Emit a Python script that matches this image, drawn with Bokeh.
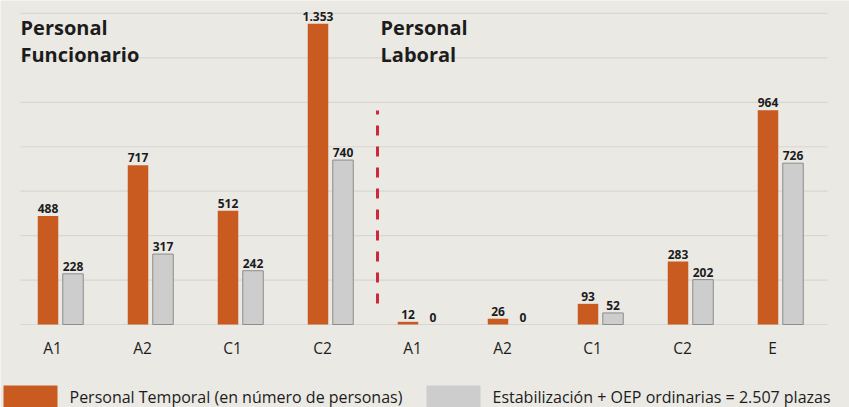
from bokeh.plotting import figure
from bokeh.models import Range1d, ColumnDataSource
from bokeh.core.properties import value
from bokeh.embed import file_html
from bokeh.resources import INLINE

# ---- data ----
categories = ["A1", "A2", "C1", "C2", "A1", "A2", "C1", "C2", "E"]
temporal = [488, 717, 512, 1353, 12, 26, 93, 283, 964]
estabilizacion = [228, 317, 242, 740, 0, 0, 52, 202, 726]
legend_labels = ["Personal Temporal (en número de personas)",
                 "Estabilización + OEP ordinarias = 2.507 plazas"]
group_titles = ["Personal\nFuncionario", "Personal\nLaboral"]

ORANGE = "#c95a20"
GRAY = "#cdcdcd"
GRAY_LINE = "#8c8c8c"
TEXT = "#1c1c1c"
BG = "#ebe9e4"

W, H = 849, 407
PXX = 90.0       # px per category
PXY = 0.2222     # px per unit
X0 = 60.0        # page x of first category
Y0 = 324.0       # page y of baseline

x_start = (0 - X0) / PXX
x_end = (W - X0) / PXX
y_end = Y0 / PXY
y_start = (Y0 - H) / PXY

p = figure(width=W, height=H, output_backend="svg", toolbar_location=None,
           x_range=Range1d(x_start, x_end), y_range=Range1d(y_start, y_end),
           min_border=0, outline_line_color=None)
p.axis.visible = False
p.xgrid.visible = False
p.ygrid.visible = False
p.background_fill_color = BG
p.border_fill_color = BG

# horizontal gridlines
grid_vals = list(range(0, 1600, 200))
p.segment(x0=[(20 - X0) / PXX] * len(grid_vals), x1=[(827 - X0) / PXX] * len(grid_vals),
          y0=grid_vals, y1=grid_vals, line_color="#d8d6d1", line_width=1.2)

def fmt(v):
    return f"{v:,}".replace(",", ".")

xs = list(range(len(categories)))
off = 12.5 / PXX
bw = 20.5 / PXX
src = ColumnDataSource(dict(
    xo=[x - off for x in xs], xg=[x + off for x in xs],
    t=temporal, e=estabilizacion,
    tl=[fmt(v) for v in temporal], el=[fmt(v) for v in estabilizacion],
    tly=[v + 3 / PXY for v in temporal], ely=[v + 3 / PXY for v in estabilizacion],
    gl=[GRAY_LINE if v > 0 else None for v in estabilizacion],
))
p.vbar(x="xo", top="t", bottom=0, width=bw, source=src, fill_color=ORANGE, line_color=None)
p.vbar(x="xg", top="e", bottom=0, width=bw, source=src, fill_color=GRAY,
       line_color="gl", line_width=1)

p.text(x="xo", y="tly", text="tl", source=src, text_align="center", text_baseline="bottom",
       text_font=value("Open Sans"), text_font_style="bold", text_font_size="12px", text_color=TEXT)
p.text(x="xg", y="ely", text="el", source=src, text_align="center", text_baseline="bottom",
       text_font=value("Open Sans"), text_font_style="bold", text_font_size="12px", text_color=TEXT)

# category labels
p.text(x=[x - 8 / PXX for x in xs], y=[-(347 - Y0) / PXY] * len(xs), text=categories,
       text_align="center", text_baseline="middle", text_font=value("Open Sans"),
       text_font_size="15.5px", text_color=TEXT)

# dashed separator between groups
p.segment(x0=[3.5 + 2 / PXX], x1=[3.5 + 2 / PXX], y0=[(Y0 - 303) / PXY], y1=[(Y0 - 110) / PXY],
          line_color="#cc2a3a", line_width=3, line_dash="10 11")

# group titles
p.text(x=[(20 - X0) / PXX, (380 - X0) / PXX], y=[(Y0 - 13) / PXY] * 2, text=group_titles,
       text_align="left", text_baseline="top", text_font=value("Open Sans"),
       text_font_style="bold", text_font_size="20px", text_color=TEXT, text_line_height=1.02)

# legend (manual)
p.rect(x=[(30 - X0) / PXX, (453 - X0) / PXX], y=[-(396 - Y0) / PXY] * 2,
       width=[54 / PXX] * 2, height=[22 / PXY] * 2,
       fill_color=[ORANGE, GRAY], line_color=None)
p.text(x=[(69 - X0) / PXX, (492 - X0) / PXX], y=[-(396 - Y0) / PXY] * 2, text=legend_labels,
       text_align="left", text_baseline="middle", text_font=value("Open Sans"),
       text_font_size="16px", text_color=TEXT)

open("out.html", "w").write(file_html(p, INLINE))
